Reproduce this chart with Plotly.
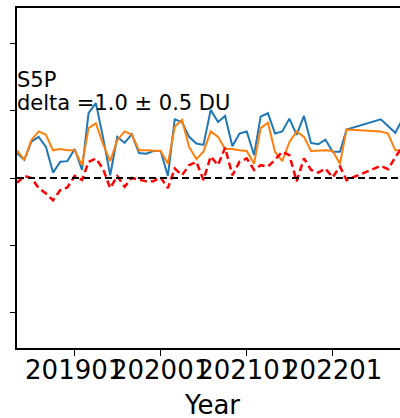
import pandas as pd
import plotly.graph_objects as go

# ---- data ----
monthly = [d.strftime("%Y-%m-%d") for d in pd.date_range("2018-05-01", "2022-03-01", freq="MS")]
late = ["2022-07-24", "2022-08-24", "2022-09-24", "2022-10-24"]
dates = monthly + late

blue = [3.7, 2.7, 5.4, 6.1, 4.6, 0.8, 2.4, 2.5, 4.3, 1.2,
        9.6, 11.1, 6.1, 0.4, 6.1, 5.2, 6.5, 3.7, 3.6, 4.0,
        4.0, 0.3, 8.7, 8.3, 6.1, 5.1, 4.9, 10.1, 8.3, 9.2,
        4.7, 6.6, 6.9, 3.4, 9.1, 9.6, 6.6, 6.9, 8.8, 6.4,
        9.2, 5.2, 5.0, 5.7, 3.9, 3.9, 7.2,
        8.7, 7.7, 6.7, 8.7]
orange = [4.1, 2.7, 5.6, 6.9, 6.4, 4.1, 4.3, 4.1, 4.1, 1.9,
          7.4, 8.1, 5.1, 2.5, 5.6, 6.9, 6.4, 4.1, 4.1, 4.1,
          4.0, 2.1, 7.6, 8.6, 4.6, 2.8, 3.9, 6.9, 6.1, 4.3,
          4.3, 4.1, 4.0, 2.1, 7.4, 8.2, 3.9, 2.5, 5.3, 6.9,
          6.1, 4.0, 4.1, 4.1, 4.0, 2.1, 7.2,
          6.9, 6.6, 4.1, 4.1]
red = [-0.7, 0.3, 0.0, -1.5, -2.3, -3.3, -1.8, -1.4, 0.3, -0.3,
       2.4, 2.9, 1.4, -1.5, 0.3, -1.3, 0.0, -0.3, -0.5, -0.5,
       0.1, -1.5, 1.4, 0.4, 1.9, 2.4, -0.3, 3.2, 1.9, 4.5,
       0.4, 2.4, 2.9, 1.2, 1.9, 1.7, 2.7, 3.9, 3.4, -0.5,
       2.9, 1.2, 0.8, 1.4, 0.1, 1.7, -0.3,
       1.8, 1.3, 3.1, 4.6]

tick_vals = ["2019-01-01", "2020-01-01", "2021-01-01", "2022-01-01"]
tick_text = ["201901", "202001", "202101", "202201"]
y_ticks = [-20, -10, 0, 10, 20]
label_lines = ["S5P", "delta =1.0 \u00b1 0.5 DU"]
x_title = "Year"

# ---- layout geometry (pixels) ----
W, H = 400, 418
L, R, T, B = 17, 0, 8, 70
plot_h = H - T - B
plot_w = W - L - R

def py(ypx):
    return (H - B - ypx) / plot_h

def px(xpx):
    return (xpx - L) / plot_w

FONT = "DejaVu Sans"

fig = go.Figure()
fig.add_trace(go.Scatter(x=dates, y=blue, mode="lines",
                         line=dict(color="#1f77b4", width=2), showlegend=False))
fig.add_trace(go.Scatter(x=dates, y=orange, mode="lines",
                         line=dict(color="#ff7f0e", width=2), showlegend=False))
fig.add_trace(go.Scatter(x=dates, y=red, mode="lines",
                         line=dict(color="#ff0000", width=2.5, dash="7px,4px"), showlegend=False))

fig.add_shape(type="line", xref="paper", yref="y", x0=0, x1=1, y0=0, y1=0,
              line=dict(color="black", width=2, dash="7px,4px"), layer="above")

fig.add_annotation(text=label_lines[0], xref="paper", yref="paper",
                   x=px(17), y=py(79.5), xanchor="left", yanchor="middle", xshift=-2,
                   showarrow=False, font=dict(family=FONT, size=21, color="black"))
fig.add_annotation(text=label_lines[1], xref="paper", yref="paper",
                   x=px(17), y=py(103), xanchor="left", yanchor="middle", xshift=-2,
                   showarrow=False, font=dict(family=FONT, size=21, color="black"))
fig.add_annotation(text=x_title, xref="paper", yref="paper",
                   x=px(211.5), y=py(404.5), xanchor="center", yanchor="middle",
                   showarrow=False, font=dict(family=FONT, size=26, color="black"))

fig.update_layout(
    width=W, height=H,
    margin=dict(l=L, r=R, t=T, b=B, autoexpand=False),
    paper_bgcolor="white", plot_bgcolor="white",
    font=dict(family=FONT, color="black"),
    xaxis=dict(type="date", range=["2018-05-01", "2022-10-14"],
               tickvals=tick_vals, ticktext=tick_text, tickangle=0,
               automargin=False, ticklabelstandoff=-8,
               ticks="outside", ticklen=6, tickwidth=1.3, tickcolor="black",
               tickfont=dict(family=FONT, size=26, color="black"),
               showgrid=False, zeroline=False,
               showline=True, linecolor="black", linewidth=1.5, mirror=True),
    yaxis=dict(range=[-25.2, 25.2], tickvals=y_ticks, showticklabels=False,
               automargin=False,
               ticks="outside", ticklen=5, tickwidth=1.3, tickcolor="black",
               showgrid=False, zeroline=False,
               showline=True, linecolor="black", linewidth=1.5, mirror=False),
)

fig.write_html("out.html")
